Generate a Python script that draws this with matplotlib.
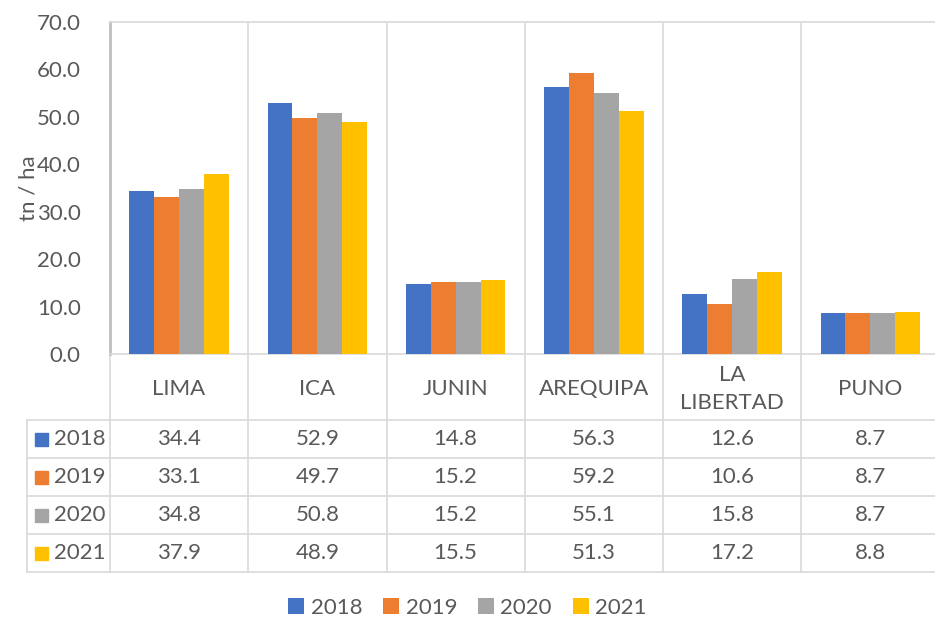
import matplotlib.pyplot as plt
from matplotlib.patches import Patch

regions = ["LIMA", "ICA", "JUNIN", "AREQUIPA", "LA\nLIBERTAD", "PUNO"]
years = ["2018", "2019", "2020", "2021"]
v2018 = [34.4, 52.9, 14.8, 56.3, 12.6, 8.7]
v2019 = [33.1, 49.7, 15.2, 59.2, 10.6, 8.7]
v2020 = [34.8, 50.8, 15.2, 55.1, 15.8, 8.7]
v2021 = [37.9, 48.9, 15.5, 51.3, 17.2, 8.8]
series = [v2018, v2019, v2020, v2021]
colors = ["#4472C4", "#ED7D31", "#A5A5A5", "#FFC000"]

plt.rcParams["font.family"] = ["Lato", "DejaVu Sans"]
TXT = "#595959"
GRID = "#D9D9D9"
FS = 16

# layout in pixels
W, H = 935, 618
L, CW = 110, 138.25
TOP, BASE = 22, 354
HDR = 420
ROW = 38
TLEFT = 27
TBOT = HDR + 4 * ROW

fig = plt.figure(figsize=(W / 100, H / 100), dpi=100)

ax = fig.add_axes([L / W, 1 - BASE / H, 6 * CW / W, (BASE - TOP) / H])
bw = 0.18
for j, vals in enumerate(series):
    xs = [i + (j - 1.5) * bw for i in range(len(regions))]
    ax.bar(xs, vals, width=bw, color=colors[j], zorder=3)
ax.set_xlim(-0.5, len(regions) - 0.5)
ax.set_ylim(0, 70)
ax.set_yticks(range(0, 71, 10))
ax.set_yticklabels([f"{t:.1f}" for t in range(0, 71, 10)], fontsize=FS, color=TXT)
ax.tick_params(axis="y", length=0, pad=21)
ax.set_xticks([])
for i in range(len(regions) - 1):
    ax.axvline(i + 0.5, color=GRID, lw=1.2, zorder=1)
for s in ["top", "left", "bottom"]:
    ax.spines[s].set_color(GRID)
    ax.spines[s].set_linewidth(1.2)
ax.spines["left"].set_color("#BFBFBF")
ax.spines["left"].set_linewidth(2)
ax.spines["right"].set_visible(False)
ax.set_ylabel("tn / ha", fontsize=FS, color=TXT)
ax.yaxis.set_label_coords(-71 / (6 * CW), 0.5)

# data table overlay, pixel coordinates
tax = fig.add_axes([0, 0, 1, 1], zorder=-1)
tax.set_xlim(0, W)
tax.set_ylim(H, 0)
tax.axis("off")
right = L + 6 * CW
for k in range(7):
    x = L + k * CW
    tax.plot([x, x], [BASE, TBOT], color=GRID, lw=1.2)
tax.plot([TLEFT, TLEFT], [HDR, TBOT], color=GRID, lw=1.2)
for r in range(5):
    y = HDR + r * ROW
    tax.plot([TLEFT, right], [y, y], color=GRID, lw=1.2)

for i, name in enumerate(regions):
    tax.text(L + (i + 0.5) * CW, (BASE + HDR) / 2 + 2, name, ha="center", va="center",
             fontsize=FS, color=TXT, linespacing=1.5)
for j, yr in enumerate(years):
    yc = HDR + (j + 0.5) * ROW
    tax.add_patch(plt.Rectangle((35, yc - 6.5), 13, 13, color=colors[j]))
    tax.text(54, yc, yr, ha="left", va="center", fontsize=FS, color=TXT)
    for i, v in enumerate(series[j]):
        tax.text(L + (i + 0.5) * CW, yc, f"{v:.1f}", ha="center", va="center",
                 fontsize=FS, color=TXT)

handles = [Patch(facecolor=c, label=y) for c, y in zip(colors, years)]
fig.legend(handles=handles, loc="center", bbox_to_anchor=(0.5, 10 / H),
           ncol=4, frameon=False, fontsize=FS, labelcolor=TXT,
           handlelength=0.7, handleheight=0.7, handletextpad=0.3,
           columnspacing=0.95)

fig.savefig("out.png", dpi=100)
